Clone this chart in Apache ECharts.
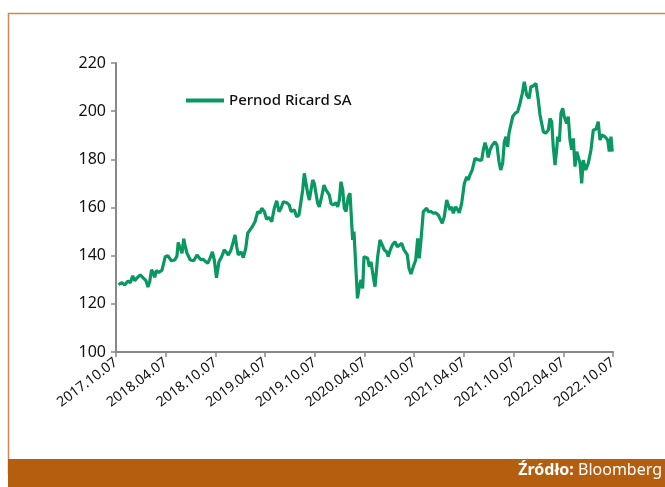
<!DOCTYPE html>
<html>
<head>
<meta charset="utf-8">
<script src="https://cdn.jsdelivr.net/npm/echarts@6/dist/echarts.min.js"></script>
<style>
  html, body { margin: 0; padding: 0; background: #fff; }
  #main { width: 665px; height: 487px; }
</style>
</head>
<body>
<div id="main"></div>
<script>
// x values are months since 2017.10.07
const tickLabels = ['2017.10.07', '2018.04.07', '2018.10.07', '2019.04.07', '2019.10.07', '2020.04.07',
    '2020.10.07', '2021.04.07', '2021.10.07', '2022.04.07', '2022.10.07'];

const months = [
    0.3, 0.72, 1.05, 1.45, 1.73, 2.02, 2.26, 2.54, 2.93, 3.34, 3.62, 3.86, 4.07, 4.29, 4.47, 4.67, 4.87, 5.15, 5.55, 5.95,
    6.28, 6.68, 7.09, 7.36, 7.51, 7.69, 7.97, 8.18, 8.37, 8.57, 8.97, 9.38, 9.78, 10.18,
    10.5, 10.74, 11.07, 11.35, 11.63, 11.87, 12.13, 12.43, 12.76, 13.07, 13.36, 13.56, 13.88, 14.16, 14.37, 14.57,
    14.76, 15.09, 15.37, 15.66, 15.9, 16.18, 16.45, 16.78, 17.11, 17.38, 17.59, 17.9, 18.19, 18.47, 18.8, 19.11, 19.4, 19.68,
    19.92, 20.2, 20.61, 20.92, 21.13, 21.33, 21.52, 21.81, 22.09, 22.3, 22.54, 22.73, 22.94, 23.14, 23.34, 23.54, 23.75,
    23.94, 24.14, 24.35, 24.54, 24.83, 25.11, 25.35, 25.56, 25.75, 25.96, 26.23, 26.56, 26.76, 26.96, 27.16, 27.37, 27.56,
    27.77, 28.04, 28.25, 28.45, 28.57, 28.73, 28.97, 29.15, 29.37, 29.58, 29.78, 29.94,
    30.12, 30.38, 30.58, 30.78, 31.06, 31.27, 31.59, 31.87, 32.15, 32.39, 32.68, 32.87, 33.11, 33.36, 33.68, 33.96, 34.2,
    34.49, 34.77, 34.97, 35.17, 35.37, 35.61, 35.89, 36.18, 36.42, 36.61, 36.82, 37.1, 37.3, 37.51, 37.7, 38.03, 38.3, 38.59, 38.91,
    39.11, 39.39, 39.63, 39.92, 40.12, 40.32, 40.53, 40.72, 41.01, 41.25, 41.44, 41.73, 42.05, 42.34, 42.53, 42.73, 43.01,
    43.34, 43.58, 43.82, 44.15, 44.34, 44.55, 44.75, 44.94, 45.15, 45.43, 45.75, 45.99, 46.24, 46.44, 46.68, 46.88, 47.08,
    47.29, 47.44, 47.68, 47.89, 48.17, 48.49, 48.77,
    49.05, 49.29, 49.58, 49.86, 50.1, 50.4, 50.7, 50.98, 51.19, 51.37, 51.59, 51.87, 52.19, 52.39, 52.6, 52.79, 53.0, 53.2,
    53.32, 53.52, 53.72, 53.93, 54.12, 54.41, 54.6, 54.81, 55.01, 55.21, 55.41, 55.62, 55.81, 56.02, 56.22, 56.41, 56.7,
    57.02, 57.34, 57.62, 57.94, 58.22, 58.43, 58.63, 59.03, 59.36, 59.55, 59.76, 59.91
];

const prices = [
    128.0, 128.8, 127.8, 129.5, 128.8, 131.6, 129.6, 130.8, 132.0, 130.6, 129.6, 127.0, 129.2, 134.2, 133.0, 131.0, 133.8, 133.0, 134.0, 139.6,
    139.9, 137.9, 138.2, 139.9, 145.5, 143.7, 141.0, 147.0, 143.7, 141.0, 138.2, 137.9, 140.3, 138.5,
    138.5, 138.2, 136.8, 138.9, 141.6, 138.2, 130.8, 137.5, 139.6, 142.4, 141.2, 140.3, 142.4, 145.8, 148.6, 143.7,
    140.3, 141.6, 139.2, 143.0, 149.3, 150.7, 152.0, 154.1, 158.3, 157.6, 159.7, 158.3, 155.1, 155.9, 154.1, 159.7, 162.8, 158.3,
    159.7, 162.4, 162.0, 161.0, 158.3, 157.6, 159.0, 156.2, 156.9, 161.7, 167.3, 174.2, 174.9, 165.9, 163.1, 163.8, 171.4,
    170.0, 165.9, 161.7, 160.3, 164.5, 169.3, 167.3, 166.6, 165.2, 161.7, 161.0, 162.0, 160.3, 163.1, 170.7, 167.3, 159.7,
    158.3, 164.5, 165.9, 165.2, 146.5, 150.0, 150.0, 122.3, 127.1, 129.9, 126.4, 139.6,
    139.0, 138.9, 135.4, 137.5, 131.3, 127.1, 139.6, 146.5, 144.4, 142.4, 141.6, 139.6, 142.4, 144.4, 145.8, 143.7, 143.0,
    145.1, 142.4, 141.6, 140.3, 134.8, 132.4, 135.4, 138.2, 147.2, 138.9, 146.5, 158.3, 159.0, 159.7, 158.3, 158.3, 157.6, 157.8, 156.9,
    156.5, 153.4, 156.2, 163.1, 163.1, 159.0, 160.3, 157.6, 160.3, 159.0, 157.8, 161.7, 170.0, 172.8, 171.4, 173.5, 175.6,
    180.4, 181.1, 179.7, 179.7, 183.9, 186.9, 184.6, 180.8, 183.9, 185.9, 187.3, 185.9, 179.0, 175.6, 178.4, 187.3, 189.4,
    185.2, 190.8, 191.5, 197.7, 199.1, 199.8, 203.2,
    207.4, 212.2, 206.7, 205.3, 210.2, 210.5, 211.5, 204.6, 198.4, 197.7, 191.5, 190.8, 192.2, 197.0, 195.6, 185.2, 177.6, 183.9,
    189.4, 187.3, 199.1, 201.2, 197.7, 194.9, 197.7, 188.0, 184.0, 188.7, 177.0, 183.2, 181.0, 178.4, 170.0, 179.7, 175.6,
    178.4, 183.9, 192.2, 192.5, 195.6, 188.0, 190.1, 189.4, 188.0, 183.2, 189.4, 183.2
];

const seriesName = 'Pernod Ricard SA';
const lineColor = '#0a9862';
const brown = '#b45e0f';

const chart = echarts.init(document.getElementById('main'));

const option = {
    animation: false,
    textStyle: {fontFamily: 'Noto Sans'},
    grid: {left: 116, right: 52, top: 63, bottom: 135},
    legend: {
        data: [seriesName],
        left: 181,
        top: 88,
        icon: 'rect',
        itemWidth: 38,
        itemHeight: 4,
        itemGap: 10,
        textStyle: {fontSize: 15, fontWeight: 500, color: '#111', fontFamily: 'Noto Sans'}
    },
    xAxis: {
        type: 'value',
        min: 0,
        max: 60,
        interval: 6,
        axisLine: {lineStyle: {color: '#888', width: 2}},
        axisTick: {length: 5, lineStyle: {color: '#888', width: 1.5}},
        splitLine: {show: false},
        axisLabel: {
            rotate: 37,
            fontSize: 14,
            color: '#111',
            margin: 9,
            fontFamily: 'Liberation Sans Narrow, Noto Sans',
            formatter: function (v) {
                return tickLabels[Math.round(v / 6)] || '';
            }
        }
    },
    yAxis: {
        type: 'value',
        min: 100,
        max: 220,
        interval: 20,
        axisLine: {show: true, lineStyle: {color: '#888', width: 2}},
        axisTick: {show: true, length: 5, lineStyle: {color: '#888', width: 1.5}},
        splitLine: {show: false},
        axisLabel: {fontSize: 16, color: '#111', margin: 10}
    },
    series: [{
        name: seriesName,
        type: 'line',
        symbol: 'none',
        lineStyle: {color: lineColor, width: 3.2},
        itemStyle: {color: lineColor},
        data: months.map((m, i) => [m, prices[i]])
    }],
    graphic: [
        {
            type: 'rect',
            shape: {x: 8.5, y: 13.5, width: 670, height: 460},
            style: {fill: 'none', stroke: '#c98a55', lineWidth: 1.5},
            silent: true
        },
        {
            type: 'rect',
            shape: {x: 8, y: 459, width: 660, height: 28},
            style: {fill: brown},
            silent: true
        },
        {
            type: 'text',
            right: 3,
            top: 462,
            style: {
                text: '{b|Źródło:} Bloomberg',
                fill: '#fff',
                fontSize: 16,
                fontFamily: 'Noto Sans',
                rich: {b: {fontWeight: 'bold', fill: '#fff', fontSize: 16, fontFamily: 'Noto Sans'}}
            },
            silent: true
        }
    ]
};

chart.setOption(option);
</script>
</body>
</html>
